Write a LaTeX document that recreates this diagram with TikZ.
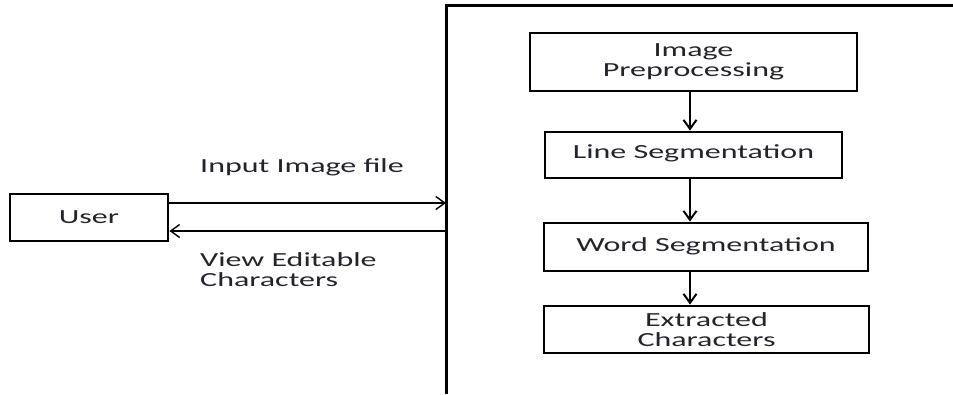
\documentclass[tikz,border=0pt]{standalone}
\usepackage{fontspec}
\setmainfont{Carlito}[FakeStretch=1.6]
\usepackage{tikz}
\usetikzlibrary{arrows.meta}

\definecolor{txtgray}{RGB}{35,35,45}

\tikzset{
  blk/.style={draw, line width=2.9pt, minimum height=46pt, inner sep=0pt, align=center, text=txtgray},
  lbl/.style={anchor=west, align=left, inner sep=0pt, text=txtgray},
  thinarr/.style={-{Straight Barb[length=9pt,width=13pt,line width=1.4pt]}, line width=1.5pt},
  downarr/.style={-{Straight Barb[length=9pt,width=13pt,line width=2pt]}, line width=2.2pt}
}

\begin{document}
\begin{tikzpicture}[x=1pt,y=-1pt,font=\fontsize{20}{21}\selectfont]

\useasboundingbox (0,0) rectangle (953,394);

\draw[line width=3pt] (953,5)--(446,5)--(446,394);

\node[blk, minimum width=158pt, minimum height=47pt] (user) at (89,217.5) {User};

\node[blk, minimum width=327pt, minimum height=58pt] (pre) at (693.5,62) {Image\\[-1pt]Preprocessing};
\node[blk, minimum width=297pt] (line) at (693.5,155) {\raisebox{7pt}{Line Segmentation}};
\node[blk, minimum width=324pt, minimum height=48pt] (word) at (706,247) {\raisebox{5pt}{Word Segmentation}};
\node[blk, minimum width=325pt, minimum height=47pt] (ext) at (706.5,329.5) {Extracted\\[-1pt]Characters};

\coordinate (ax) at (690,0);
\coordinate (inR) at (446,203);
\coordinate (inL) at (446,231);

\draw[downarr] (pre.south -| ax)--(line.north -| ax);
\draw[downarr] (line.south -| ax)--(word.north -| ax);
\draw[downarr] (word.south -| ax)--(ext.north -| ax);

\draw[thinarr] (user.east |- inR)--(inR);
\draw[thinarr] (inL)--(user.east |- inL);

\node[lbl] (inlbl) at (200,167) {Input Image file};
\node[lbl] (outlbl) at (200,270) {View Editable\\[-1pt]Characters};

\end{tikzpicture}
\end{document}
